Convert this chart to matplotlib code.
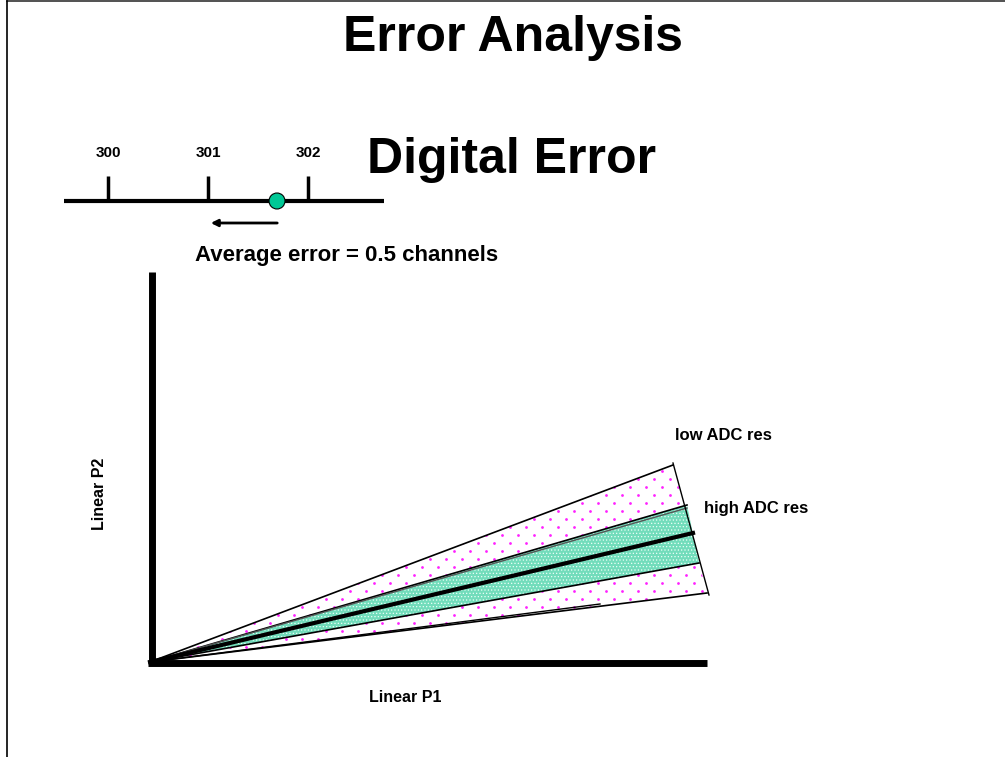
import numpy as np
import matplotlib.pyplot as plt
from matplotlib.patches import Polygon, Circle

plt.rcParams['font.family'] = ['Liberation Sans', 'DejaVu Sans']
plt.rcParams['hatch.linewidth'] = 0.5

# ------------------------------ Data -----------------------------------
# number line (channels) and where the measured value falls
channels = [300, 301, 302]
measured = 301.69
rounded_to = 301.0

# fan of P2 vs P1 lines, pixel-space end points (origin shared)
origin = (150, 662)
low_upper = (673, 465)
high_upper = (687, 505)
centre = (693, 533)
high_lower = (699, 563)
low_lower = (707, 593)

# ------------------------------ Figure -----------------------------------
fig = plt.figure(figsize=(10.05, 7.57), dpi=100)
ax = fig.add_axes([0, 0, 1, 1])
ax.set_xlim(0, 1005)
ax.set_ylim(757, 0)
ax.axis('off')

# slide frame (top and left edges)
ax.plot([7, 1005], [1, 1], color='#333333', lw=1.2)
ax.plot([7, 7], [1, 757], color='black', lw=1.2)

# titles
ax.text(513, 38, 'Error Analysis', ha='center', va='center', fontsize=36, fontweight='bold')
ax.text(512, 160, 'Digital Error', ha='center', va='center', fontsize=36, fontweight='bold')

# ------------------------------ Number line -----------------------------------
def ch_to_x(v):
    return 108 + (v - 300) * 100

ax.plot([64, 384], [201, 201], color='black', lw=3, solid_capstyle='butt')
for c in channels:
    x = ch_to_x(c)
    ax.plot([x, x], [176, 201], color='black', lw=2.5, solid_capstyle='butt')
    ax.text(x, 153, str(c), ha='center', va='center', fontsize=11, fontweight='bold')

ax.add_patch(Circle((ch_to_x(measured), 201), 8, facecolor='#00c896', edgecolor='black', lw=0.8, zorder=5))
ax.annotate('', xy=(ch_to_x(rounded_to), 223), xytext=(ch_to_x(measured) + 3, 223),
            arrowprops=dict(arrowstyle='-|>', color='black', lw=2, mutation_scale=10))
ax.text(195, 256, 'Average error = 0.5 channels', ha='left', va='center', fontsize=16, fontweight='bold')

# ------------------------------ Fan diagram -----------------------------------
low_poly = Polygon([origin, low_upper, low_lower], closed=True, facecolor='white', lw=0)
ax.add_patch(low_poly)
# sparse magenta dot texture, staggered rows
gx, gy = np.meshgrid(np.arange(150, 720, 16), np.arange(455, 665, 8))
gx = gx + (((gy - 455) // 8) % 2) * 8
dots = ax.scatter(gx.ravel(), gy.ravel(), s=4, color='#ff22ff', lw=0, zorder=2)
dots.set_clip_path(low_poly)

ax.add_patch(Polygon([origin, high_upper, high_lower], closed=True, facecolor='#72dcbb',
                     edgecolor='#eafff7', hatch='.....', lw=0, zorder=3))

for end in [low_upper, high_upper, high_lower, low_lower]:
    ax.plot([origin[0], end[0]], [origin[1], end[1]], color='black', lw=1.2, zorder=4)
# doubled edges
ax.plot([origin[0], high_upper[0]], [origin[1], high_upper[1] + 3], color='#555555', lw=1, zorder=4)
ax.plot([origin[0], 600], [origin[1], 604], color='black', lw=1, zorder=4)
ax.plot([origin[0], centre[0]], [origin[1], centre[1]], color='black', lw=3, zorder=4)
# right edge
ax.plot([low_upper[0], low_lower[0] + 2], [low_upper[1] - 2, low_lower[1] + 2], color='black', lw=1, zorder=4)

# axes of the diagram
ax.plot([152, 152], [272, 665], color='black', lw=5, solid_capstyle='butt', zorder=5)
ax.plot([148, 707], [663, 663], color='black', lw=5, solid_capstyle='butt', zorder=5)

ax.text(100, 494, 'Linear P2', rotation=90, ha='center', va='center', fontsize=11.5, fontweight='bold')
ax.text(405, 698, 'Linear P1', ha='center', va='center', fontsize=11.5, fontweight='bold')
ax.text(675, 436, 'low ADC res', ha='left', va='center', fontsize=12, fontweight='bold')
ax.text(704, 509, 'high ADC res', ha='left', va='center', fontsize=12, fontweight='bold')

fig.savefig('out.png', dpi=100)
